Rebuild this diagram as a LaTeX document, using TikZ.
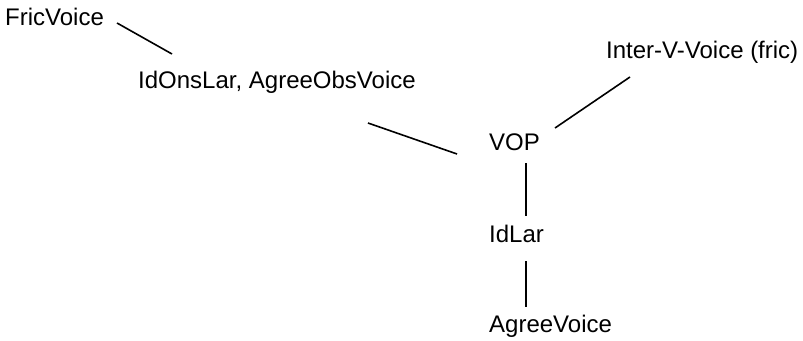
\documentclass[tikz,border=0pt]{standalone}
\usepackage{fontspec}
\setmainfont{Liberation Sans}
\begin{document}
\begin{tikzpicture}[x=1pt,y=-1pt,
  lbl/.style={anchor=base west,inner sep=0pt,font=\fontsize{24}{29}\selectfont},
  conn/.style={line width=1.6pt}]
\useasboundingbox (0,0) rectangle (803,340);
\node[lbl] (fric) at (5,25) {FricVoice};
\node[lbl] (idons) at (138,88) {IdOnsLar, AgreeObsVoice};
\node[lbl] (vop) at (489,150) {VOP};
\node[lbl] (inter) at (606,58) {Inter-V-Voice (fric)};
\node[lbl] (idlar) at (489,242) {IdLar};
\node[lbl] (agree) at (489,332) {AgreeVoice};
\coordinate (c1a) at (117,23);
\coordinate (c1b) at (172,54);
\coordinate (c2a) at (368,123);
\coordinate (c2b) at (457,154);
\coordinate (c3a) at (555,128);
\coordinate (c3b) at (630,77);
\coordinate (c4a) at (526,163);
\coordinate (c4b) at (526,216);
\coordinate (c5a) at (526,261);
\coordinate (c5b) at (526,307);
\draw[conn] (c1a) -- (c1b);
\draw[conn] (c2a) -- (c2b);
\draw[conn] (c3a) -- (c3b);
\draw[conn] (c4a) -- (c4b);
\draw[conn] (c5a) -- (c5b);
\end{tikzpicture}
\end{document}
